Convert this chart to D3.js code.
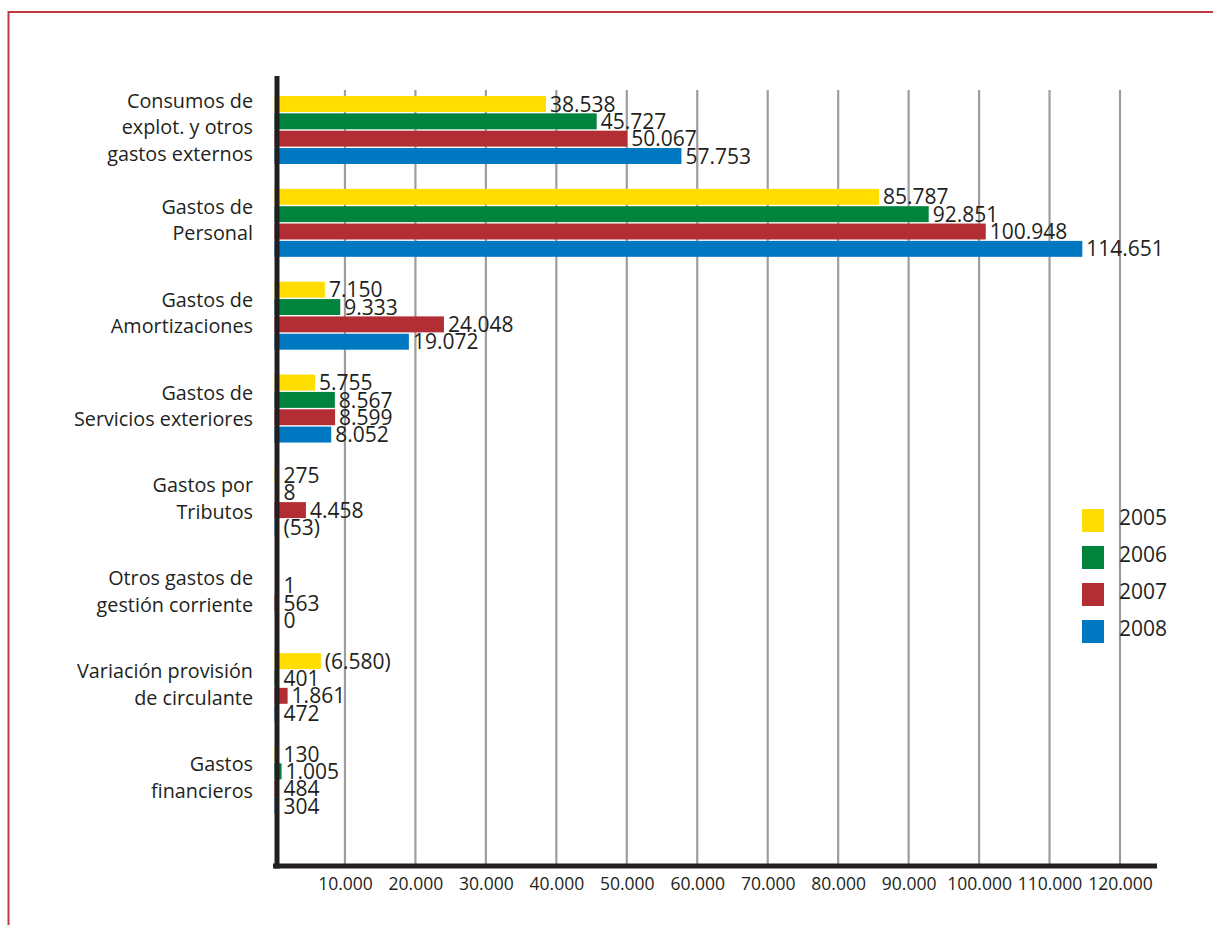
<!DOCTYPE html>
<html>
<head>
<meta charset="utf-8">
<script src="https://cdn.jsdelivr.net/npm/d3@7"></script>
<style>
  html, body { margin: 0; padding: 0; background: #fff; }
  svg { display: block; }
  text { font-family: "Open Sans", "DejaVu Sans", sans-serif; fill: #231f20; }
</style>
</head>
<body>
<svg id="chart" width="1213" height="925"></svg>
<script>
const categories = [
  ["Consumos de", "explot. y otros", "gastos externos"],
  ["Gastos de", "Personal"],
  ["Gastos de", "Amortizaciones"],
  ["Gastos de", "Servicios exteriores"],
  ["Gastos por", "Tributos"],
  ["Otros gastos de", "gestión corriente"],
  ["Variación provisión", "de circulante"],
  ["Gastos", "financieros"]
];
const seriesNames = ["2005", "2006", "2007", "2008"];
const values2005 = [38538, 85787, 7150, 5755, 275, null, -6580, 130];
const values2006 = [45727, 92851, 9333, 8567, 8, 1, 401, 1005];
const values2007 = [50067, 100948, 24048, 8599, 4458, 563, 1861, 484];
const values2008 = [57753, 114651, 19072, 8052, -53, 0, 472, 304];
const tickValues = [10000, 20000, 30000, 40000, 50000, 60000, 70000, 80000, 90000, 100000, 110000, 120000];
const colors = ["#ffdd00", "#00843d", "#b22e34", "#0078c1"];

const seriesValues = [values2005, values2006, values2007, values2008];
const catKeys = categories.map((c, i) => "c" + i);

const svg = d3.select("#chart");
const locale = d3.formatLocale({ decimal: ",", thousands: ".", grouping: [3], currency: ["", "€"] });
const fmtNum = locale.format(",d");
const fmt = v => v < 0 ? "(" + fmtNum(-v) + ")" : fmtNum(v);

const x = d3.scaleLinear().domain([0, 120000]).range([274.5, 1120]);
const y = d3.scaleBand().domain(catKeys).range([96, 814]).paddingInner(0.268).paddingOuter(0);
const ySub = d3.scaleBand().domain(seriesNames).range([0, y.bandwidth()]).paddingInner(0.08);

const axisY = 866;

// Frame
svg.append("line").attr("x1", 8).attr("x2", 1213).attr("y1", 12).attr("y2", 12)
  .attr("stroke", "#c0393f").attr("stroke-width", 2);
svg.append("line").attr("x1", 8.5).attr("x2", 8.5).attr("y1", 11).attr("y2", 925)
  .attr("stroke", "#c0393f").attr("stroke-width", 2);

// Gridlines
svg.append("g").selectAll("line").data(tickValues).join("line")
  .attr("x1", d => x(d)).attr("x2", d => x(d))
  .attr("y1", 90).attr("y2", axisY)
  .attr("stroke", "#9d9d9f").attr("stroke-width", 2.2);

// Bars
const groups = svg.append("g").selectAll("g").data(catKeys).join("g")
  .attr("transform", d => `translate(0,${y(d)})`);

groups.each(function(key, ci) {
  const g = d3.select(this);
  const rows = seriesNames.map((s, si) => ({ s, si, v: seriesValues[si][ci] })).filter(d => d.v !== null);
  g.selectAll("rect").data(rows).join("rect")
    .attr("x", x(0))
    .attr("y", d => ySub(d.s))
    .attr("width", d => Math.max(0, x(Math.abs(d.v)) - x(0)))
    .attr("height", ySub.bandwidth())
    .attr("fill", d => colors[d.si]);
  g.selectAll("text.val").data(rows).join("text")
    .attr("class", "val")
    .attr("x", d => Math.max(x(Math.abs(d.v)), x(0) + 5) + 4)
    .attr("y", d => ySub(d.s) + ySub.bandwidth() / 2 + 2)
    .attr("dominant-baseline", "middle")
    .attr("font-size", 21)
    .text(d => fmt(d.v));
});

// Category labels
const lineH = 26.5;
svg.append("g").selectAll("text").data(catKeys).join("text")
  .attr("text-anchor", "end")
  .attr("font-size", 19.8)
  .each(function(key, ci) {
    const lines = categories[ci];
    const cy = y(key) + y.bandwidth() / 2 - 1;
    const t = d3.select(this);
    lines.forEach((ln, li) => {
      t.append("tspan")
        .attr("x", 253)
        .attr("y", cy + (li - (lines.length - 1) / 2) * lineH)
        .attr("dominant-baseline", "middle")
        .text(ln);
    });
  });

// X axis
const xAxis = d3.axisBottom(x).tickValues(tickValues).tickSize(0).tickPadding(0).tickFormat(d => fmtNum(d));
const ax = svg.append("g").attr("transform", `translate(0,${axisY + 11})`).call(xAxis);
ax.select(".domain").remove();
ax.selectAll("text").attr("font-size", 17.5).attr("fill", "#231f20").attr("dy", "0.75em")
  .style("font-family", "'Open Sans', sans-serif");

// Axis lines
svg.append("line").attr("x1", 273).attr("x2", 1157).attr("y1", axisY).attr("y2", axisY)
  .attr("stroke", "#231f20").attr("stroke-width", 5);
svg.append("line").attr("x1", 277).attr("x2", 277).attr("y1", 76).attr("y2", axisY + 2.5)
  .attr("stroke", "#231f20").attr("stroke-width", 5);

// Legend
const legend = svg.append("g").selectAll("g").data(seriesNames).join("g")
  .attr("transform", (d, i) => `translate(1082,${509 + i * 37})`);
legend.append("rect").attr("width", 22).attr("height", 23).attr("fill", (d, i) => colors[i]);
legend.append("text").attr("x", 37).attr("y", 10.5).attr("dominant-baseline", "middle")
  .attr("font-size", 21).text(d => d);
</script>
</body>
</html>
